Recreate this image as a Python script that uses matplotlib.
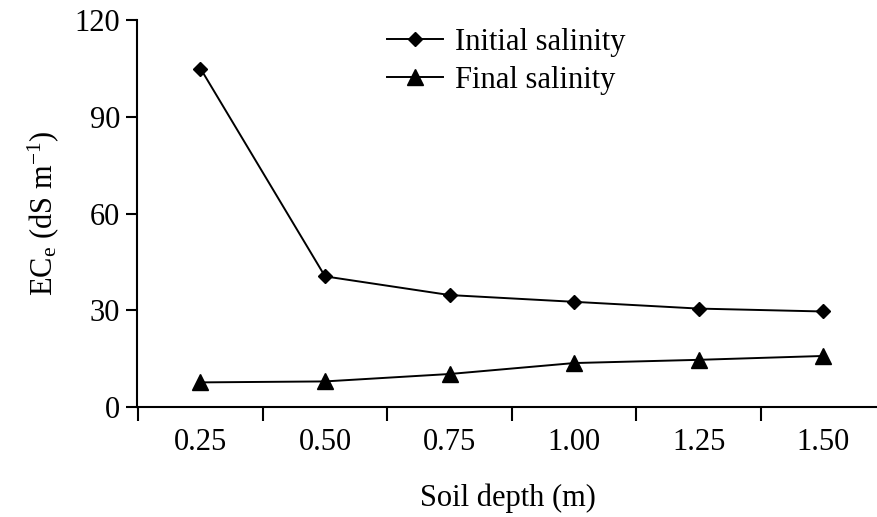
"""Figure: soil salinity (ECe) by depth, initial vs final."""
import matplotlib
matplotlib.use("Agg")
import matplotlib.pyplot as plt

DEPTHS = ["0.25", "0.50", "0.75", "1.00", "1.25", "1.50"]
INITIAL = [105.0, 40.5, 34.7, 32.6, 30.5, 29.6]
FINAL = [7.6, 7.9, 10.2, 13.6, 14.6, 15.8]

plt.rcParams["font.family"] = ["Liberation Serif", "DejaVu Serif"]
plt.rcParams["mathtext.fontset"] = "custom"
plt.rcParams["mathtext.rm"] = "Liberation Serif"
plt.rcParams["mathtext.it"] = "Liberation Serif:italic"

FS = 22

fig = plt.figure(figsize=(8.78, 5.17), dpi=100)
ax = fig.add_axes([0.156, 0.213, 0.844, 0.748])

xs = range(len(DEPTHS))
ax.plot(xs, INITIAL, color="black", lw=1.4, marker="D", ms=7.5,
        label="Initial salinity")
ax.plot(xs, FINAL, color="black", lw=1.4, marker="^", ms=11,
        label="Final salinity")

ax.set_xlim(-0.51, 5.44)
ax.set_ylim(0, 120)
ax.set_yticks([0, 30, 60, 90, 120])
ax.set_xticks([i - 0.5 for i in xs])
ax.set_xticklabels([])
ax.set_xticks(list(xs), minor=True)
ax.set_xticklabels(DEPTHS, minor=True)
ax.tick_params(axis="x", which="major", direction="out", length=10, width=1.5)
ax.tick_params(axis="x", which="minor", length=0, pad=15, labelsize=FS)
ax.tick_params(axis="y", direction="out", length=8, width=1.5, labelsize=FS,
               pad=4)
for side in ("top", "right"):
    ax.spines[side].set_visible(False)
for side in ("left", "bottom"):
    ax.spines[side].set_linewidth(1.5)

ax.set_xlabel("Soil depth (m)", fontsize=FS, labelpad=19)
ax.set_ylabel(r"EC$_{\mathrm{e}}$ (dS m$^{\mathrm{-1}}$)", fontsize=FS,
              labelpad=10)

ax.legend(loc="upper left", bbox_to_anchor=(0.337, 0.98), frameon=False,
          fontsize=FS, numpoints=1, handlelength=1.83, handletextpad=0.4,
          labelspacing=0.3, borderaxespad=0, borderpad=0)

fig.savefig("out.png", dpi=100)
